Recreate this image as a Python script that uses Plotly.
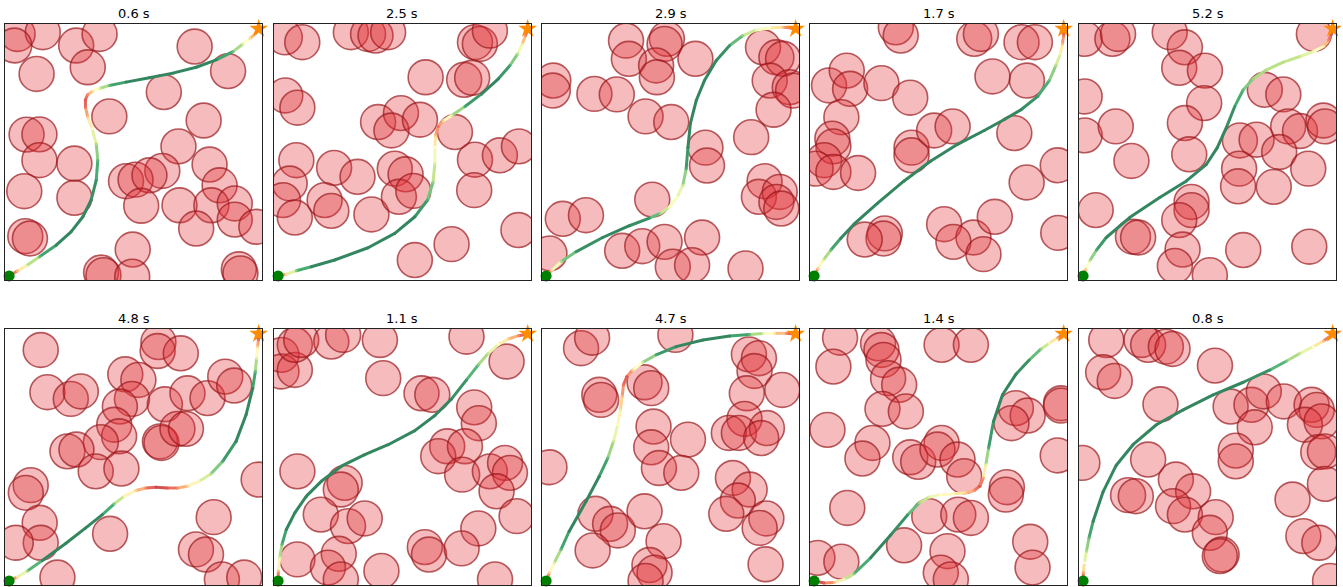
import plotly.graph_objects as go

# ---------------------------------------------------------------- data
W, H = 1343, 587
RADIUS = 0.68            # obstacle radius in world units (world is 0..10)
START = (0.16, 0.16)
GOAL = (9.87, 9.81)

titles = ["0.6 s", "2.5 s", "2.9 s", "1.7 s", "5.2 s",
          "4.8 s", "1.1 s", "4.7 s", "1.4 s", "0.8 s"]

# obstacle centres, one pair of lists per scenario
p1_obs_x = [0.49, 1.47, 0.36, 2.77, 3.68, 3.22, 1.23, 7.38, 8.68, 6.18, 4.06, 7.73, 0.84, 1.34,
            6.75, 1.34, 2.70, 7.96, 6.12, 4.71, 5.08, 5.62, 0.75, 2.70, 8.35, 5.30, 6.79, 8.03,
            8.94, 7.44, 8.94, 9.78, 0.79, 0.97, 4.97, 3.74, 3.83, 4.95, 9.10, 9.16]
p1_obs_y = [9.61, 9.68, 9.16, 9.16, 9.61, 8.31, 8.05, 9.12, 8.16, 7.34, 6.39, 6.23, 5.68, 5.69,
            5.22, 4.68, 4.55, 4.51, 4.26, 3.86, 3.92, 4.09, 3.47, 3.21, 3.70, 2.90, 2.92, 2.92,
            2.99, 2.01, 2.36, 2.08, 1.71, 1.62, 1.19, 0.29, 0.19, 0.13, 0.42, 0.26]

p2_obs_x = [0.42, 1.10, 2.99, 3.66, 3.95, 4.44, 7.82, 8.01, 8.40, 5.90, 7.40, 7.71, 0.44, 0.91,
            4.05, 4.94, 4.57, 5.68, 7.04, 0.87, 2.34, 3.25, 4.70, 5.12, 7.82, 8.79, 9.53, 0.61,
            0.35, 0.81, 1.97, 2.23, 3.79, 4.86, 5.42, 7.79, 9.51, 6.91, 5.48]
p2_obs_y = [9.48, 9.29, 9.68, 9.61, 9.55, 9.68, 9.29, 9.22, 9.74, 7.92, 7.82, 7.90, 7.21, 6.73,
            6.17, 6.52, 5.84, 6.26, 5.78, 4.68, 4.38, 4.03, 4.35, 4.13, 4.70, 4.87, 5.22, 3.77,
            3.12, 2.44, 3.12, 2.70, 2.56, 3.25, 3.48, 3.51, 1.95, 1.40, 0.78]

p3_obs_x = [3.27, 4.86, 4.77, 3.38, 4.44, 4.47, 5.97, 0.44, 0.42, 2.04, 2.91, 4.03, 5.03, 8.60,
            9.12, 9.38, 8.86, 9.64, 9.77, 9.01, 8.14, 6.36, 6.42, 8.66, 8.44, 9.25, 9.12, 9.31,
            4.29, 0.81, 1.71, 0.29, 3.12, 3.90, 4.77, 6.23, 5.09, 5.84, 7.92]
p3_obs_y = [9.35, 9.42, 9.22, 8.64, 8.38, 7.92, 8.64, 7.79, 7.40, 7.27, 7.25, 6.39, 6.17, 9.09,
            8.70, 8.64, 7.79, 7.53, 7.40, 6.65, 5.58, 5.17, 4.47, 3.86, 3.25, 3.44, 3.05, 2.79,
            3.14, 2.39, 2.53, 1.04, 1.14, 1.32, 1.49, 1.66, 0.52, 0.58, 0.45]

p4_obs_x = [3.34, 3.53, 6.39, 6.65, 8.23, 8.75, 7.10, 8.44, 0.74, 1.43, 1.56, 2.78, 3.90, 1.22,
            0.87, 0.91, 0.55, 0.22, 0.91, 1.87, 3.95, 3.95, 4.83, 5.55, 7.95, 9.64, 8.43, 2.91,
            2.86, 2.13, 5.22, 6.36, 5.58, 6.75, 7.19, 9.66]
p4_obs_y = [9.87, 9.55, 9.42, 9.61, 9.29, 9.29, 7.95, 7.79, 7.60, 8.18, 7.47, 7.69, 7.12, 6.36,
            5.52, 5.22, 4.68, 4.35, 4.22, 4.18, 5.17, 4.87, 5.84, 6.00, 5.74, 4.48, 3.81, 1.82,
            1.62, 1.58, 2.18, 1.66, 1.49, 1.01, 2.47, 1.84]

p5_obs_x = [0.22, 1.30, 1.52, 3.53, 4.12, 3.90, 4.90, 9.14, 0.22, 4.87, 4.12, 0.22, 1.43, 4.29,
            2.04, 7.23, 7.95, 6.26, 6.91, 8.14, 8.60, 9.51, 9.57, 7.79, 8.92, 6.23, 6.19, 7.58,
            0.65, 4.38, 4.38, 3.90, 2.10, 2.30, 4.03, 3.73, 5.09, 6.39, 8.96]
p5_obs_y = [9.42, 9.42, 9.61, 9.68, 9.09, 8.29, 8.18, 9.61, 7.17, 6.91, 6.13, 5.65, 6.00, 4.91,
            4.65, 7.43, 7.25, 5.45, 5.48, 6.00, 5.82, 6.23, 6.00, 5.00, 4.35, 4.35, 3.66, 3.64,
            2.73, 3.05, 2.73, 2.34, 1.69, 1.66, 1.19, 0.55, 0.19, 1.17, 1.30]

p6_obs_x = [1.39, 5.97, 5.94, 6.84, 1.65, 2.56, 2.95, 4.68, 5.19, 4.94, 4.47, 6.22, 7.10, 7.88,
            8.57, 8.92, 4.25, 4.44, 3.73, 2.43, 2.78, 3.53, 4.53, 6.03, 6.09, 6.71, 7.04, 1.00,
            0.81, 1.35, 1.39, 0.42, 4.09, 2.04, 8.12, 7.43, 7.82, 8.44, 9.31, 9.87]
p6_obs_y = [9.18, 9.49, 9.14, 9.05, 7.53, 7.27, 7.56, 8.23, 8.01, 7.27, 6.97, 7.06, 7.49, 7.30,
            8.14, 7.79, 6.26, 5.81, 5.58, 5.22, 5.29, 4.44, 4.55, 5.61, 5.55, 6.10, 6.10, 3.90,
            3.60, 2.43, 1.65, 1.65, 2.00, 0.29, 2.65, 1.39, 1.19, 0.22, 0.29, 4.12]

p7_obs_x = [0.29, 0.29, 0.81, 0.81, 1.06, 2.23, 2.69, 4.12, 4.25, 5.74, 6.16, 7.49, 9.05, 7.79,
            7.97, 6.74, 6.39, 7.43, 7.32, 8.40, 8.99, 9.18, 8.66, 9.44, 7.95, 0.91, 2.75, 2.60,
            1.82, 2.88, 3.53, 2.52, 0.91, 2.10, 2.60, 4.18, 5.87, 6.03, 7.30, 8.60]
p7_obs_y = [8.99, 8.34, 8.40, 9.38, 9.57, 9.51, 9.77, 9.57, 8.08, 7.49, 7.43, 9.70, 8.73, 6.94,
            6.32, 5.42, 5.03, 5.42, 4.31, 4.44, 4.77, 4.38, 3.66, 2.69, 2.21, 4.44, 3.99, 3.73,
            2.75, 2.30, 2.60, 1.22, 1.00, 0.68, 0.22, 0.55, 1.48, 1.19, 1.43, 0.22]

p8_obs_x = [1.52, 1.95, 5.19, 2.23, 2.30, 3.99, 4.25, 8.05, 8.44, 8.27, 7.97, 9.35, 7.88, 7.27,
            7.66, 8.75, 8.53, 4.34, 4.25, 5.68, 4.55, 5.42, 0.29, 7.43, 8.08, 7.62, 7.17, 8.73,
            8.47, 2.08, 2.65, 2.95, 3.99, 1.97, 4.73, 4.18, 4.38, 4.03, 8.70]
p8_obs_y = [9.25, 9.66, 9.77, 7.43, 7.23, 7.92, 7.69, 9.01, 8.86, 8.36, 7.49, 7.62, 6.49, 5.94,
            5.94, 6.13, 5.74, 6.19, 5.38, 5.68, 4.57, 4.38, 4.60, 4.18, 3.73, 3.30, 2.78, 2.60,
            2.23, 2.78, 2.39, 2.13, 2.88, 1.35, 1.71, 0.78, 0.48, 0.16, 0.81]

p9_obs_x = [1.17, 2.65, 2.78, 2.86, 3.04, 3.47, 2.82, 3.73, 0.91, 5.12, 6.26, 0.68, 2.43, 2.04,
            3.90, 4.21, 5.12, 4.96, 5.74, 6.00, 8.01, 8.47, 7.84, 9.77, 9.77, 9.64, 7.66, 7.62,
            1.45, 4.64, 5.77, 6.26, 3.66, 5.35, 5.09, 5.48, 0.29, 1.22, 8.57, 8.66]
p9_obs_y = [9.66, 9.44, 9.18, 8.79, 8.08, 7.82, 6.88, 6.78, 8.53, 9.38, 9.38, 6.06, 5.55, 4.94,
            4.99, 4.81, 5.55, 5.29, 4.90, 4.25, 6.91, 6.62, 6.32, 7.10, 7.01, 5.06, 3.82, 3.53,
            3.01, 2.69, 2.75, 2.62, 1.55, 1.32, 0.48, 0.22, 1.06, 0.91, 1.69, 0.68]

p10_obs_x = [1.06, 2.43, 2.69, 3.38, 3.64, 0.94, 1.39, 5.29, 3.17, 5.90, 6.71, 7.19, 7.97, 6.84,
             9.05, 9.25, 8.79, 9.44, 9.31, 9.57, 9.57, 6.10, 6.10, 2.69, 0.13, 3.77, 4.44, 1.91,
             2.21, 3.66, 4.12, 5.32, 5.09, 5.55, 5.48, 8.31, 8.73, 9.35, 9.77]
p10_obs_y = [9.57, 9.57, 9.38, 9.31, 9.22, 8.31, 7.97, 8.57, 7.06, 6.97, 7.04, 7.56, 7.17, 6.16,
             7.04, 6.84, 6.26, 6.39, 5.19, 5.22, 3.95, 5.25, 4.83, 4.90, 4.77, 4.12, 3.66, 3.51,
             3.47, 3.08, 2.75, 2.65, 2.04, 1.19, 1.13, 3.34, 1.91, 1.65, 0.16]

# trajectory waypoints and normalised speed (0 = slow, 1 = fast)
p1_path_x = [0.17, 0.49, 0.82, 1.34, 1.99, 2.57, 3.03, 3.35, 3.55, 3.61, 3.55, 3.39, 3.22, 3.13,
             3.13, 3.22, 3.42, 3.68, 4.06, 4.71, 5.62, 6.53, 7.44, 8.22, 8.87, 9.26, 9.52, 9.75, 9.88]
p1_path_y = [0.16, 0.36, 0.55, 0.91, 1.36, 1.88, 2.47, 3.12, 3.90, 4.68, 5.32, 5.91, 6.36, 6.75,
             7.04, 7.25, 7.38, 7.48, 7.60, 7.73, 7.90, 8.08, 8.31, 8.60, 8.92, 9.22, 9.42, 9.64, 9.81]
p1_speed = [0.05, 0.3, 0.55, 0.85, 1, 1, 1, 1, 0.95, 0.85, 0.7, 0.5, 0.35, 0.15,
            0.1, 0.2, 0.4, 0.6, 0.85, 1, 1, 1, 1, 1, 0.85, 0.6, 0.4, 0.2, 0.05]

p2_path_x = [0.16, 0.48, 0.87, 1.45, 2.36, 3.66, 4.70, 5.48, 5.97, 6.19, 6.26, 6.26, 6.29, 6.39,
             6.58, 6.91, 7.43, 8.08, 8.73, 9.18, 9.48, 9.66, 9.79, 9.87]
p2_path_y = [0.16, 0.23, 0.36, 0.52, 0.78, 1.26, 1.82, 2.47, 3.12, 3.83, 4.55, 5.19, 5.65, 6.00,
             6.21, 6.43, 6.78, 7.27, 7.86, 8.38, 8.83, 9.22, 9.55, 9.81]
p2_speed = [0.05, 0.4, 0.8, 1, 1, 1, 1, 1, 0.9, 0.75, 0.6, 0.5, 0.3, 0.15,
            0.35, 0.6, 0.9, 1, 1, 0.9, 0.7, 0.4, 0.2, 0.05]

p3_path_x = [0.16, 0.39, 0.74, 1.32, 2.36, 3.40, 4.18, 4.60, 4.94, 5.25, 5.48, 5.61, 5.68, 5.77,
             6.00, 6.32, 6.78, 7.30, 7.82, 8.34, 8.86, 9.38, 9.71, 9.88]
p3_path_y = [0.16, 0.39, 0.71, 1.10, 1.66, 2.12, 2.42, 2.60, 2.83, 3.22, 3.70, 4.35, 5.19, 6.10,
             7.01, 7.79, 8.57, 9.16, 9.55, 9.77, 9.84, 9.87, 9.84, 9.81]
p3_speed = [0.05, 0.4, 0.7, 0.95, 1, 1, 0.95, 0.75, 0.55, 0.5, 0.65, 0.9, 1, 1,
            1, 1, 1, 0.95, 0.75, 0.55, 0.5, 0.3, 0.1, 0.05]

p4_path_x = [0.16, 0.31, 0.52, 0.81, 1.19, 1.71, 2.62, 3.66, 4.70, 5.74, 6.78, 7.56, 8.21, 8.86,
             9.31, 9.57, 9.74, 9.82, 9.87, 9.88]
p4_path_y = [0.16, 0.45, 0.78, 1.17, 1.62, 2.18, 2.99, 3.87, 4.65, 5.30, 5.84, 6.27, 6.65, 7.17,
             7.79, 8.38, 8.83, 9.22, 9.55, 9.81]
p4_speed = [0.05, 0.35, 0.6, 0.85, 1, 1, 1, 1, 1, 1, 1, 1, 1, 0.95,
            0.85, 0.7, 0.55, 0.3, 0.15, 0.05]

p5_path_x = [0.16, 0.26, 0.42, 0.68, 1.06, 1.97, 3.14, 4.18, 4.96, 5.38, 5.74, 6.06, 6.39, 6.78,
             7.30, 7.95, 8.60, 9.12, 9.51, 9.71, 9.81, 9.88]
p5_path_y = [0.16, 0.42, 0.75, 1.17, 1.66, 2.44, 3.22, 3.87, 4.52, 5.17, 5.97, 6.78, 7.43, 7.86,
             8.21, 8.51, 8.73, 8.92, 9.12, 9.35, 9.58, 9.81]
p5_speed = [0.05, 0.35, 0.65, 0.9, 1, 1, 1, 1, 1, 1, 1, 0.95, 0.85, 0.75,
            0.7, 0.7, 0.65, 0.55, 0.4, 0.2, 0.1, 0.05]

p6_path_x = [0.16, 0.48, 0.87, 1.45, 2.36, 3.14, 3.79, 4.25, 4.64, 5.09, 5.48, 5.87, 6.32, 6.71,
             7.10, 7.56, 8.01, 8.47, 8.99, 9.38, 9.64, 9.74, 9.79, 9.83, 9.86, 9.87]
p6_path_y = [0.16, 0.31, 0.55, 0.96, 1.62, 2.23, 2.75, 3.17, 3.47, 3.69, 3.79, 3.82, 3.79, 3.79,
             3.86, 4.05, 4.34, 4.83, 5.61, 6.65, 7.69, 8.34, 8.86, 9.31, 9.57, 9.79]
p6_speed = [0.05, 0.4, 0.75, 1, 1, 1, 1, 0.8, 0.55, 0.35, 0.2, 0.05, 0.1, 0.2,
            0.35, 0.55, 0.7, 0.9, 1, 1, 1, 0.85, 0.6, 0.35, 0.15, 0.05]

p7_path_x = [0.16, 0.17, 0.22, 0.31, 0.48, 0.81, 1.26, 1.84, 2.62, 3.53, 4.44, 5.48, 6.26, 6.91,
             7.49, 7.95, 8.34, 8.73, 9.12, 9.51, 9.87]
p7_path_y = [0.16, 0.55, 1.06, 1.58, 2.17, 2.82, 3.47, 4.05, 4.64, 5.09, 5.48, 6.03, 6.62, 7.27,
             8.01, 8.60, 9.05, 9.40, 9.61, 9.74, 9.79]
p7_speed = [0.05, 0.3, 0.6, 0.85, 1, 1, 1, 1, 1, 1, 1, 1, 1, 1,
            0.95, 0.8, 0.65, 0.5, 0.35, 0.2, 0.05]

p8_path_x = [0.16, 0.29, 0.48, 0.74, 1.06, 1.71, 2.23, 2.56, 2.78, 2.95, 3.05, 3.12, 3.17, 3.30,
             3.53, 3.92, 4.44, 5.22, 6.26, 7.30, 8.08, 8.60, 9.05, 9.51, 9.87]
p8_path_y = [0.16, 0.48, 0.87, 1.39, 2.10, 3.26, 4.25, 4.96, 5.61, 6.26, 6.84, 7.36, 7.82, 8.14,
             8.40, 8.70, 8.99, 9.31, 9.57, 9.73, 9.79, 9.82, 9.83, 9.83, 9.79]
p8_speed = [0.05, 0.35, 0.6, 0.85, 1, 1, 1, 0.85, 0.65, 0.5, 0.4, 0.3, 0.15, 0.1,
            0.35, 0.65, 0.9, 1, 1, 1, 0.85, 0.6, 0.4, 0.2, 0.05]

p9_path_x = [0.16, 0.55, 0.94, 1.32, 1.71, 2.36, 3.14, 3.79, 4.25, 4.64, 5.09, 5.61, 6.06, 6.39,
             6.61, 6.74, 6.84, 6.95, 7.14, 7.49, 8.01, 8.53, 8.99, 9.31, 9.64, 9.87]
p9_path_y = [0.16, 0.08, 0.10, 0.22, 0.44, 1.06, 1.95, 2.73, 3.21, 3.44, 3.53, 3.56, 3.60, 3.69,
             3.86, 4.18, 4.70, 5.35, 6.39, 7.43, 8.23, 8.79, 9.22, 9.44, 9.66, 9.79]
p9_speed = [0.05, 0.1, 0.3, 0.55, 0.8, 1, 1, 0.95, 0.75, 0.6, 0.5, 0.45, 0.35, 0.2,
            0.1, 0.25, 0.6, 0.9, 1, 1, 1, 0.95, 0.75, 0.55, 0.25, 0.05]

p10_path_x = [0.16, 0.17, 0.21, 0.29, 0.39, 0.55, 0.94, 1.45, 2.10, 3.01, 4.05, 5.22, 6.39, 7.43,
              8.08, 8.60, 9.12, 9.51, 9.87]
p10_path_y = [0.16, 0.48, 0.87, 1.32, 1.84, 2.49, 3.65, 4.68, 5.48, 6.26, 6.84, 7.43, 7.92, 8.40,
              8.75, 9.05, 9.31, 9.53, 9.79]
p10_speed = [0.05, 0.25, 0.5, 0.7, 0.85, 1, 1, 1, 1, 1, 1, 1, 1, 0.95,
             0.8, 0.65, 0.5, 0.3, 0.05]

scenarios = [
    (p1_obs_x, p1_obs_y, p1_path_x, p1_path_y, p1_speed),
    (p2_obs_x, p2_obs_y, p2_path_x, p2_path_y, p2_speed),
    (p3_obs_x, p3_obs_y, p3_path_x, p3_path_y, p3_speed),
    (p4_obs_x, p4_obs_y, p4_path_x, p4_path_y, p4_speed),
    (p5_obs_x, p5_obs_y, p5_path_x, p5_path_y, p5_speed),
    (p6_obs_x, p6_obs_y, p6_path_x, p6_path_y, p6_speed),
    (p7_obs_x, p7_obs_y, p7_path_x, p7_path_y, p7_speed),
    (p8_obs_x, p8_obs_y, p8_path_x, p8_path_y, p8_speed),
    (p9_obs_x, p9_obs_y, p9_path_x, p9_path_y, p9_speed),
    (p10_obs_x, p10_obs_y, p10_path_x, p10_path_y, p10_speed),
]

# ---------------------------------------------------------------- styling
RDYLGN = ["#a50026", "#d73027", "#f46d43", "#fdae61", "#fee08b", "#ffffbf",
          "#d9ef8b", "#a6d96a", "#66bd63", "#1a9850", "#006837"]
PATH_ALPHA = 0.8


def _hex(c):
    return tuple(int(c[i:i + 2], 16) for i in (1, 3, 5))


def speed_color(t):
    """RdYlGn lookup, composited at PATH_ALPHA over white."""
    t = min(max(t, 0.0), 1.0) * (len(RDYLGN) - 1)
    i = min(int(t), len(RDYLGN) - 2)
    f = t - i
    a, b = _hex(RDYLGN[i]), _hex(RDYLGN[i + 1])
    rgb = [a[j] + (b[j] - a[j]) * f for j in range(3)]
    rgb = [round(PATH_ALPHA * v + (1 - PATH_ALPHA) * 255) for v in rgb]
    return "rgb({},{},{})".format(*rgb)


OBS_FILL = "rgba(226,49,55,0.33)"
OBS_EDGE = "rgba(150,20,25,0.68)"

# pixel geometry of the 2 x 5 grid
COL_LEFT = [5, 274, 542, 810, 1079]
PANEL_W = 257
ROW_TOP = [24, 329]
PANEL_H = 256

fig = go.Figure()
shapes = []
annotations = []
layout_axes = {}

for k, (ox, oy, px, py, sp) in enumerate(scenarios):
    n = k + 1
    row, col = divmod(k, 5)
    xa = "x" if n == 1 else f"x{n}"
    ya = "y" if n == 1 else f"y{n}"
    x0 = COL_LEFT[col] / W
    x1 = (COL_LEFT[col] + PANEL_W) / W
    y1 = 1 - ROW_TOP[row] / H
    y0 = 1 - (ROW_TOP[row] + PANEL_H) / H

    axis_style = dict(range=[0, 10], showgrid=False, zeroline=False, showticklabels=False,
                      ticks="", showline=True, mirror=True, linecolor="#222222",
                      linewidth=1.3, fixedrange=True)
    layout_axes["xaxis" if n == 1 else f"xaxis{n}"] = dict(domain=[x0, x1], anchor=ya, **axis_style)
    layout_axes["yaxis" if n == 1 else f"yaxis{n}"] = dict(domain=[y0, y1], anchor=xa, **axis_style)

    # obstacles
    for cx, cy in zip(ox, oy):
        shapes.append(dict(type="circle", xref=xa, yref=ya,
                           x0=cx - RADIUS, x1=cx + RADIUS, y0=cy - RADIUS, y1=cy + RADIUS,
                           fillcolor=OBS_FILL, line=dict(color=OBS_EDGE, width=1.6),
                           layer="below"))

    # trajectory, coloured per segment by speed
    groups = {}
    for i in range(len(px) - 1):
        q = round(0.5 * (sp[i] + sp[i + 1]) * 40) / 40
        gx, gy = groups.setdefault(q, ([], []))
        gx += [px[i], px[i + 1], None]
        gy += [py[i], py[i + 1], None]
    for q, (gx, gy) in sorted(groups.items()):
        fig.add_trace(go.Scatter(x=gx, y=gy, mode="lines", xaxis=xa, yaxis=ya,
                                 line=dict(color=speed_color(q), width=3),
                                 hoverinfo="skip", showlegend=False))
    fig.add_trace(go.Scatter(x=px, y=py, mode="markers", xaxis=xa, yaxis=ya,
                             marker=dict(size=3, color=[speed_color(s) for s in sp],
                                         line=dict(width=0)),
                             hoverinfo="skip", showlegend=False))

    # start and goal
    fig.add_trace(go.Scatter(x=[START[0]], y=[START[1]], mode="markers", xaxis=xa, yaxis=ya,
                             marker=dict(size=11, color="#008000", line=dict(width=0)),
                             cliponaxis=False, hoverinfo="skip", showlegend=False))
    fig.add_trace(go.Scatter(x=[GOAL[0]], y=[GOAL[1]], mode="markers", xaxis=xa, yaxis=ya,
                             marker=dict(size=14, symbol="star", color="#ff8c00", line=dict(width=0)),
                             cliponaxis=False, hoverinfo="skip", showlegend=False))

    annotations.append(dict(text=titles[k], xref="paper", yref="paper",
                            x=(x0 + x1) / 2, y=y1 + 11 / H, xanchor="center", yanchor="middle",
                            showarrow=False, font=dict(size=13, color="black",
                                                       family="DejaVu Sans")))

fig.update_layout(width=W, height=H, margin=dict(l=0, r=0, t=0, b=0),
                  paper_bgcolor="white", plot_bgcolor="white",
                  shapes=shapes, annotations=annotations, showlegend=False,
                  **layout_axes)

fig.write_html("out.html")
